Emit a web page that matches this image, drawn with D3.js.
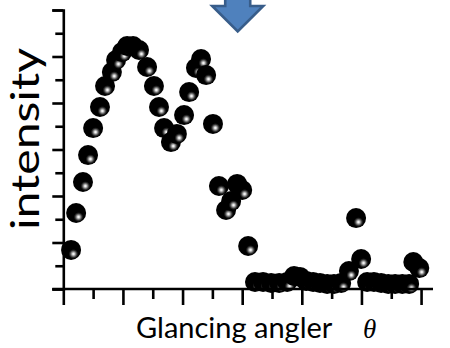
<!DOCTYPE html>
<html><head><meta charset="utf-8">
<script src="https://cdn.jsdelivr.net/npm/d3@7"></script>
<style>html,body{margin:0;padding:0;background:#fff;}svg{display:block;}</style>
</head><body>
<svg id="chart" width="450" height="348"></svg>
<script>
// Glancing angle (x) and intensity (y)
const angle = [0.26,0.43,0.66,0.83,1.00,1.23,1.40,1.63,1.77,1.97,2.14,2.34,2.54,2.81,3.04,3.21,3.38,3.61,3.81,4.05,4.22,4.45,4.62,4.79,5.02,5.22,5.46,5.63,5.83,6.00,6.20,
  6.43,6.70,6.97,7.24,7.51,7.74,7.94,8.15,8.38,8.61,8.85,9.08,9.32,9.58,9.82,9.99,10.19,10.42,10.66,10.90,11.13,11.37,11.60,11.74,11.94];
const intensity = [1.68,3.27,4.60,5.76,6.92,7.83,8.73,9.33,9.85,10.19,10.45,10.45,10.28,9.55,8.73,7.83,6.92,6.32,6.67,7.48,8.47,9.51,9.89,9.20,7.10,4.43,3.40,3.78,4.52,4.26,1.85,
  0.30,0.30,0.26,0.26,0.30,0.56,0.52,0.34,0.30,0.26,0.22,0.22,0.26,0.77,3.05,1.29,0.30,0.30,0.26,0.22,0.22,0.22,0.22,1.16,0.90];
const xTicks = [0,1,2,3,4,5,6,7,8,9,10,11,12];
const yTicks = [0,1,2,3,4,5,6,7,8,9,10,11,12];
const xLabel = "Glancing angler";
const yLabel = "intensity";
const arrowAt = 5.85;

const svg = d3.select("#chart");
const x = d3.scaleLinear().domain([0,12.4]).range([63.3, 433]);
const y = d3.scaleLinear().domain([0,12]).range([289, 10]);

const defs = svg.append("defs");
const g = defs.append("radialGradient").attr("id","ball")
  .attr("cx",0.62).attr("cy",0.7).attr("r",0.24).attr("fx",0.62).attr("fy",0.7);
g.append("stop").attr("offset",0).attr("stop-color","#ffffff");
g.append("stop").attr("offset",0.18).attr("stop-color","#e6e6e6");
g.append("stop").attr("offset",0.4).attr("stop-color","#9a9a9a");
g.append("stop").attr("offset",0.75).attr("stop-color","#2a2a2a");
g.append("stop").attr("offset",1).attr("stop-color","#000000");

// points
svg.append("g").selectAll("circle").data(angle.map((a,i)=>[a,intensity[i]])).join("circle")
  .attr("cx",d=>x(d[0])).attr("cy",d=>y(d[1])).attr("r",10)
  .attr("fill","url(#ball)");

// axes
const xAxis = svg.append("g").attr("transform",`translate(0,${y(0)})`)
  .call(d3.axisBottom(x).tickValues(xTicks).tickFormat("").tickSizeOuter(0)
    .tickSize(16));
xAxis.selectAll(".tick line").attr("y2",(d)=>d%2===0?16:10);
const yAxis = svg.append("g").attr("transform",`translate(${x(0)},0)`)
  .call(d3.axisLeft(y).tickValues(yTicks).tickFormat("").tickSizeOuter(0).tickSize(11));
yAxis.selectAll(".tick line").attr("x2",(d)=>d%2===0?-11:-8);
svg.selectAll(".domain, .tick line").attr("stroke","#000").attr("stroke-width",2.6);
xAxis.select(".domain").attr("d",`M${x(0)-11},0H${x(12.4)}`);

// labels
svg.append("text").attr("x",136).attr("y",338)
  .attr("font-family","Lato, 'Open Sans', sans-serif").attr("font-size",29).attr("fill","#000")
  .text(xLabel);
svg.append("text").attr("x",363).attr("y",338)
  .attr("font-family","'Liberation Serif', serif").attr("font-style","italic").attr("font-size",27).attr("fill","#000")
  .text("θ");
svg.append("text").attr("transform","translate(39,139) rotate(-90)").attr("text-anchor","middle")
  .attr("font-family","Lato, 'Open Sans', sans-serif").attr("font-size",38)
  .attr("textLength",182).attr("lengthAdjust","spacingAndGlyphs").attr("fill","#000")
  .text(yLabel);

// arrow annotation
const ax = x(arrowAt);
const arrow = d3.path();
arrow.moveTo(ax-12.5,-3); arrow.lineTo(ax+12.5,-3); arrow.lineTo(ax+12.5,6);
arrow.lineTo(ax+25.5,6); arrow.lineTo(ax,31.5); arrow.lineTo(ax-25.5,6);
arrow.lineTo(ax-12.5,6); arrow.closePath();
svg.append("path").attr("d",arrow.toString()).attr("fill","#4f81bd")
  .attr("stroke","#385d8a").attr("stroke-width",2.6).attr("stroke-linejoin","miter");
</script>
</body></html>
